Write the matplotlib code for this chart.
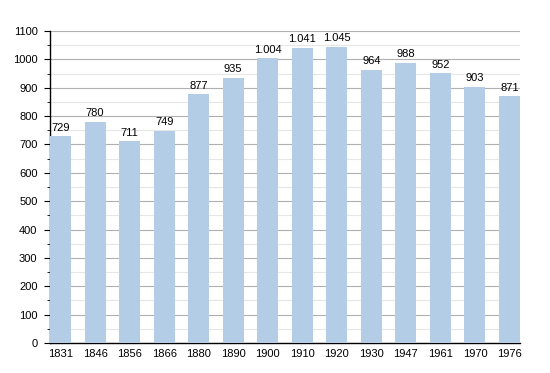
import matplotlib
matplotlib.use("Agg")
import matplotlib.pyplot as plt
from matplotlib.ticker import MultipleLocator

# data
years = ["1831", "1846", "1856", "1866", "1880", "1890", "1900",
         "1910", "1920", "1930", "1947", "1961", "1970", "1976"]
population = [729, 780, 711, 749, 877, 935, 1004,
              1041, 1045, 964, 988, 952, 903, 871]

plt.rcParams["font.family"] = ["Liberation Sans", "DejaVu Sans"]

fig = plt.figure(figsize=(5.5, 3.73), dpi=100)
ax = fig.add_axes([50 / 550, 30 / 373, 470 / 550, 312 / 373])
ax.set_axisbelow(True)

x = list(range(len(years)))
bar_w = 0.61
ax.bar(x, population, width=bar_w, color="#b3cde6", zorder=3)

for xi, v in zip(x, population):
    label = f"{v:,}".replace(",", ".")
    ax.text(xi, v + 12, label, ha="center", va="bottom", fontsize=8, zorder=4)

ax.set_xlim(-bar_w / 2, len(years) - 1 + bar_w / 2)
ax.set_ylim(0, 1100)
ax.set_xticks(x)
ax.set_xticklabels(years, fontsize=8)
ax.yaxis.set_major_locator(MultipleLocator(100))
ax.yaxis.set_minor_locator(MultipleLocator(50))
ax.tick_params(axis="y", labelsize=8, length=4, width=0.8, pad=5)
ax.tick_params(axis="y", which="minor", length=2.5, width=0.6)
ax.tick_params(axis="x", length=0, pad=4)

ax.grid(axis="y", which="major", color="#b0b0b0", linewidth=0.8)
ax.grid(axis="y", which="minor", color="#e6e6e6", linewidth=0.8)

for side in ["top", "right"]:
    ax.spines[side].set_visible(False)
ax.spines["left"].set_linewidth(1.0)
ax.spines["bottom"].set_linewidth(1.0)

fig.savefig("out.png", dpi=100)
